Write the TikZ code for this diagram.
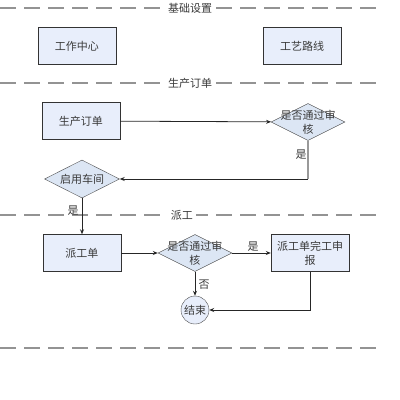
\documentclass[tikz,border=0pt]{standalone}
\usepackage{fontspec}
\setmainfont{Noto Sans CJK SC}
\usetikzlibrary{shapes.geometric,arrows.meta}

\definecolor{boxblue}{HTML}{E8EEFB}
\definecolor{diablue}{HTML}{DCE6F4}
\definecolor{txtgray}{HTML}{3A3A3A}

\tikzset{
  box/.style={draw=black!80, fill=boxblue, minimum width=78pt, minimum height=37pt,
    inner sep=0pt, align=center, text=txtgray},
  check/.style={draw=black!70, fill=diablue, diamond, minimum width=74pt,
    minimum height=37pt, inner sep=0pt,
    label={[align=center, text=txtgray]center:#1}},
  sepline/.style={draw=gray!85, line width=1.4pt, dash pattern=on 16pt off 8pt},
  seplabel/.style={fill=white, inner sep=3pt, text=txtgray},
  arrow/.style={draw=black!85, line width=0.8pt, -{Stealth[length=5pt,width=4pt]}},
  note/.style={text=txtgray, inner sep=1pt}
}

\begin{document}
\begin{tikzpicture}[x=1pt, y=-1pt, font=\fontsize{11}{14}\selectfont]
  \useasboundingbox (0,0) rectangle (400,400);

  % section separators
  \draw[sepline] (0,8) -- (378,8);
  \draw[sepline] (0,83) -- (378,83);
  \draw[sepline] (0,215) -- (378,215);
  \draw[sepline] (0,348) -- (378,348);
  \node[seplabel] (secbase) at (190,8) {基础设置};
  \node[seplabel] (secorder) at (190,83) {生产订单};
  \node[seplabel] (secdispatch) at (182,215) {派工};

  % basic setup
  \node[box] (center) at (77,46) {工作中心};
  \node[box] (route) at (302,46) {工艺路线};

  % production order
  \node[box] (order) at (81,121) {生产订单};
  \node[check={是否通过审\\核}] (check1) at (308,122) {};
  \node[check={启用车间}, minimum width=75pt, minimum height=38pt] (shop) at (82,179) {};
  \coordinate (turn) at (308,179);

  \draw[arrow] (order) -- (check1);
  \draw[draw=gray!80, line width=1.5pt] (check1.south) -- (turn);
  \draw[arrow] (turn) -- (shop.east);
  \node[note] (yes1) at (301,155) {是};

  % dispatch
  \node[box] (dispatch) at (82,253) {派工单};
  \node[check={是否通过审\\核}] (check2) at (195,253) {};
  \node[box] (report) at (310,253) {派工单完工申\\报};
  \node[draw=black!70, fill=boxblue, circle, minimum size=28pt, inner sep=0pt,
    text=txtgray] (finish) at (195,310) {结束};

  \draw[arrow] (shop) -- (dispatch);
  \node[note] (yes2) at (73,211) {是};
  \draw[arrow] (dispatch) -- (check2);
  \draw[arrow] (check2) -- (report);
  \node[note] (yes3) at (253,247) {是};
  \draw[arrow] (check2) -- (finish);
  \node[note] (no1) at (204,285) {否};
  \draw[arrow] (report.south) |- (finish.east);
\end{tikzpicture}
\end{document}
